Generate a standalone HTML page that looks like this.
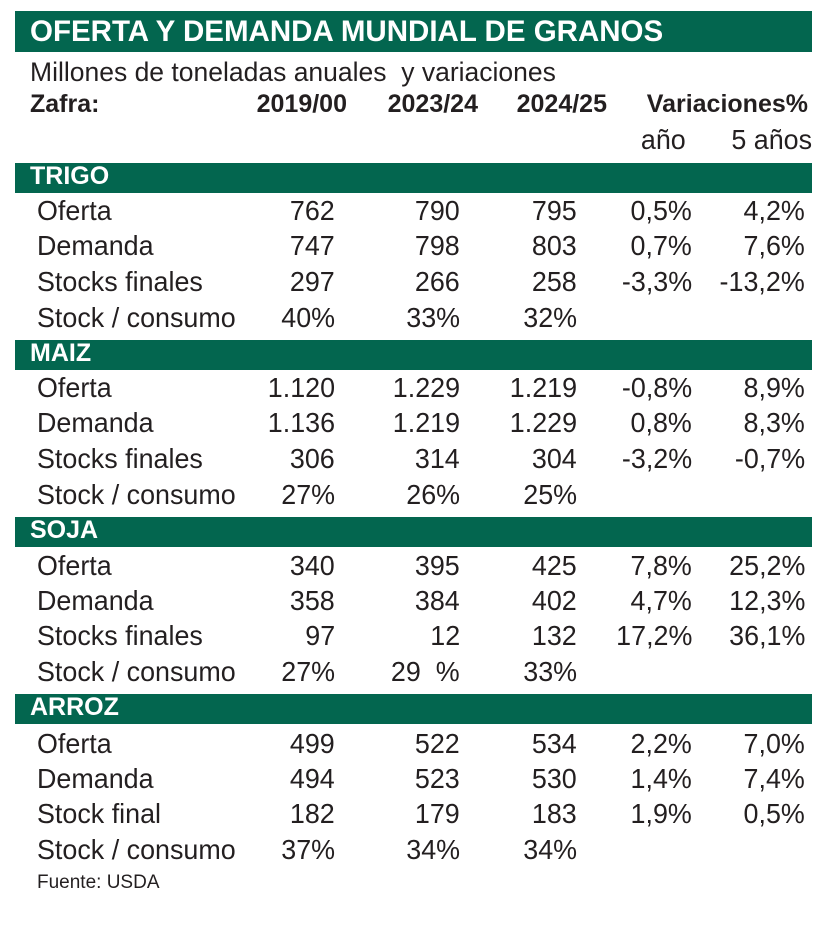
<!DOCTYPE html>
<html><head><meta charset="utf-8"><style>
body{margin:0;width:840px;height:925px;background:#fff;position:relative;overflow:hidden;font-family:"Liberation Sans",sans-serif;color:#231f20}
.bar{position:absolute;left:15px;width:797px;background:#03664f}
.t{position:absolute;white-space:nowrap;line-height:30px;font-size:28px;transform:scaleX(.96)}
.l{transform-origin:left center}
.r{transform-origin:right center;text-align:right}
.w{color:#fff;font-weight:bold;font-size:25px;transform:none}
.b{font-weight:bold;font-size:25px;transform:none}
</style></head><body>
<div class="bar" style="top:11px;height:41px"></div>
<div class="t l w" style="left:30px;top:17px;font-size:29.5px">OFERTA Y DEMANDA MUNDIAL DE GRANOS</div>
<div class="t l" style="left:30px;top:57px;font-size:26.5px;transform:none">Millones de toneladas anuales&nbsp; y variaciones</div>
<div class="t l b" style="left:30px;top:89px">Zafra:</div>
<div class="t r b" style="right:493px;top:89px">2019/00</div>
<div class="t r b" style="right:362px;top:89px">2023/24</div>
<div class="t r b" style="right:233px;top:89px">2024/25</div>
<div class="t r b" style="right:32px;top:89px">Variaciones%</div>
<div class="t r" style="right:154px;top:125px">año</div>
<div class="t r" style="right:28px;top:125px">5 años</div>

<div class="bar" style="top:163px;height:30px"></div>
<div class="t l w" style="left:30px;top:161px">TRIGO</div>
<div class="t l" style="left:37px;top:196px">Oferta</div><div class="t r" style="right:505px;top:196px">762</div><div class="t r" style="right:380px;top:196px">790</div><div class="t r" style="right:263px;top:196px">795</div><div class="t r" style="right:148px;top:196px">0,5%</div><div class="t r" style="right:35px;top:196px">4,2%</div>
<div class="t l" style="left:37px;top:231px">Demanda</div><div class="t r" style="right:505px;top:231px">747</div><div class="t r" style="right:380px;top:231px">798</div><div class="t r" style="right:263px;top:231px">803</div><div class="t r" style="right:148px;top:231px">0,7%</div><div class="t r" style="right:35px;top:231px">7,6%</div>
<div class="t l" style="left:37px;top:267px">Stocks finales</div><div class="t r" style="right:505px;top:267px">297</div><div class="t r" style="right:380px;top:267px">266</div><div class="t r" style="right:263px;top:267px">258</div><div class="t r" style="right:148px;top:267px">-3,3%</div><div class="t r" style="right:35px;top:267px">-13,2%</div>
<div class="t l" style="left:37px;top:303px">Stock / consumo</div><div class="t r" style="right:505px;top:303px">40%</div><div class="t r" style="right:380px;top:303px">33%</div><div class="t r" style="right:263px;top:303px">32%</div>

<div class="bar" style="top:340px;height:30px"></div>
<div class="t l w" style="left:30px;top:338px">MAIZ</div>
<div class="t l" style="left:37px;top:373px">Oferta</div><div class="t r" style="right:505px;top:373px">1.120</div><div class="t r" style="right:380px;top:373px">1.229</div><div class="t r" style="right:263px;top:373px">1.219</div><div class="t r" style="right:148px;top:373px">-0,8%</div><div class="t r" style="right:35px;top:373px">8,9%</div>
<div class="t l" style="left:37px;top:408px">Demanda</div><div class="t r" style="right:505px;top:408px">1.136</div><div class="t r" style="right:380px;top:408px">1.219</div><div class="t r" style="right:263px;top:408px">1.229</div><div class="t r" style="right:148px;top:408px">0,8%</div><div class="t r" style="right:35px;top:408px">8,3%</div>
<div class="t l" style="left:37px;top:444px">Stocks finales</div><div class="t r" style="right:505px;top:444px">306</div><div class="t r" style="right:380px;top:444px">314</div><div class="t r" style="right:263px;top:444px">304</div><div class="t r" style="right:148px;top:444px">-3,2%</div><div class="t r" style="right:35px;top:444px">-0,7%</div>
<div class="t l" style="left:37px;top:480px">Stock / consumo</div><div class="t r" style="right:505px;top:480px">27%</div><div class="t r" style="right:380px;top:480px">26%</div><div class="t r" style="right:263px;top:480px">25%</div>

<div class="bar" style="top:517px;height:30px"></div>
<div class="t l w" style="left:30px;top:515px">SOJA</div>
<div class="t l" style="left:37px;top:551px">Oferta</div><div class="t r" style="right:505px;top:551px">340</div><div class="t r" style="right:380px;top:551px">395</div><div class="t r" style="right:263px;top:551px">425</div><div class="t r" style="right:148px;top:551px">7,8%</div><div class="t r" style="right:35px;top:551px">25,2%</div>
<div class="t l" style="left:37px;top:586px">Demanda</div><div class="t r" style="right:505px;top:586px">358</div><div class="t r" style="right:380px;top:586px">384</div><div class="t r" style="right:263px;top:586px">402</div><div class="t r" style="right:148px;top:586px">4,7%</div><div class="t r" style="right:35px;top:586px">12,3%</div>
<div class="t l" style="left:37px;top:621px">Stocks finales</div><div class="t r" style="right:505px;top:621px">97</div><div class="t r" style="right:380px;top:621px">12</div><div class="t r" style="right:263px;top:621px">132</div><div class="t r" style="right:148px;top:621px">17,2%</div><div class="t r" style="right:35px;top:621px">36,1%</div>
<div class="t l" style="left:37px;top:657px">Stock / consumo</div><div class="t r" style="right:505px;top:657px">27%</div><div class="t r" style="right:380px;top:657px">29&nbsp;&nbsp;%</div><div class="t r" style="right:263px;top:657px">33%</div>

<div class="bar" style="top:694px;height:30px"></div>
<div class="t l w" style="left:30px;top:692px">ARROZ</div>
<div class="t l" style="left:37px;top:729px">Oferta</div><div class="t r" style="right:505px;top:729px">499</div><div class="t r" style="right:380px;top:729px">522</div><div class="t r" style="right:263px;top:729px">534</div><div class="t r" style="right:148px;top:729px">2,2%</div><div class="t r" style="right:35px;top:729px">7,0%</div>
<div class="t l" style="left:37px;top:764px">Demanda</div><div class="t r" style="right:505px;top:764px">494</div><div class="t r" style="right:380px;top:764px">523</div><div class="t r" style="right:263px;top:764px">530</div><div class="t r" style="right:148px;top:764px">1,4%</div><div class="t r" style="right:35px;top:764px">7,4%</div>
<div class="t l" style="left:37px;top:799px">Stock final</div><div class="t r" style="right:505px;top:799px">182</div><div class="t r" style="right:380px;top:799px">179</div><div class="t r" style="right:263px;top:799px">183</div><div class="t r" style="right:148px;top:799px">1,9%</div><div class="t r" style="right:35px;top:799px">0,5%</div>
<div class="t l" style="left:37px;top:835px">Stock / consumo</div><div class="t r" style="right:505px;top:835px">37%</div><div class="t r" style="right:380px;top:835px">34%</div><div class="t r" style="right:263px;top:835px">34%</div>

<div class="t l" style="left:37px;top:868px;font-size:19px;transform:none">Fuente: USDA</div>
</body></html>
